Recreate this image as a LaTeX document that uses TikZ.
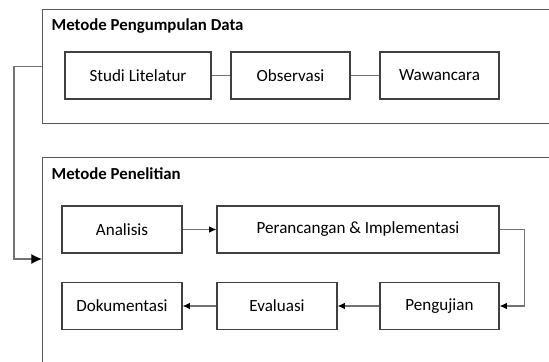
\documentclass[tikz,border=0pt]{standalone}
\usepackage{fontspec}
\setmainfont{Carlito}
\usetikzlibrary{arrows.meta,positioning}

\begin{document}
\begin{tikzpicture}[x=0.75pt, y=-0.75pt, font=\fontsize{12.8}{15}\selectfont,
        kotak/.style = {draw=black!75, line width=0.8pt, minimum height=35.25pt, inner sep=0pt},
        bingkai/.style = {draw=black!65, line width=0.9pt, inner sep=0pt, anchor=north west},
        judul/.style = {anchor=west, font=\fontsize{12.6}{15}\selectfont\bfseries},
        alur/.style = {draw=black!55, line width=0.9pt},
        panah/.style = {alur, -{Latex[color=black, length=5.5pt, width=5pt]}}]
        \useasboundingbox (0,0) rectangle (549,361);
        \clip (0,0) rectangle (549,361);

        % bingkai luar
        \node[bingkai, minimum width=388.5pt, minimum height=85.5pt] (pengumpulan) at (42,9) {};
        \node[bingkai, minimum width=388.5pt, minimum height=167.25pt] (penelitian) at (42,157) {};
        \node[judul] (judul1) at (47,26) {Metode Pengumpulan Data};
        \node[judul] (judul2) at (47,174) {Metode Penelitian};

        % pengumpulan data
        \node[kotak, minimum width=109.5pt] (studi) at (138,75.5) {Studi Litelatur};
        \node[kotak, minimum width=89.25pt] (observasi) at (290.5,75.5) {Observasi};
        \node[kotak, minimum width=89.25pt] (wawancara) at (439.5,75.5) {Wawancara};

        \draw[alur] (studi) -- (observasi);
        \draw[alur] (observasi) -- (wawancara);

        % penelitian
        \node[kotak, minimum width=90pt] (analisis) at (122,229.5) {Analisis};
        \node[kotak, minimum width=211.5pt] (perancangan) at (358,229.5) {Perancangan \& Implementasi};
        \node[kotak, minimum width=90pt] (dokumentasi) at (122,306) {Dokumentasi};
        \node[kotak, minimum width=90pt] (evaluasi) at (277,306) {Evaluasi};
        \node[kotak, minimum width=89.25pt] (pengujian) at (439.5,306) {Pengujian};

        \draw[panah] (analisis) -- (perancangan);
        \draw[panah] (perancangan.east) -- ++(25,0) |- (pengujian.east);
        \draw[panah] (pengujian) -- (evaluasi);
        \draw[panah] (evaluasi) -- (dokumentasi);

        \coordinate (masuk) at (42,259);
        \draw[alur, -{Latex[color=black, length=8pt, width=7.5pt]}] (pengumpulan.west) -- ++(-28,0) |- (masuk);
    \end{tikzpicture}
\end{document}
